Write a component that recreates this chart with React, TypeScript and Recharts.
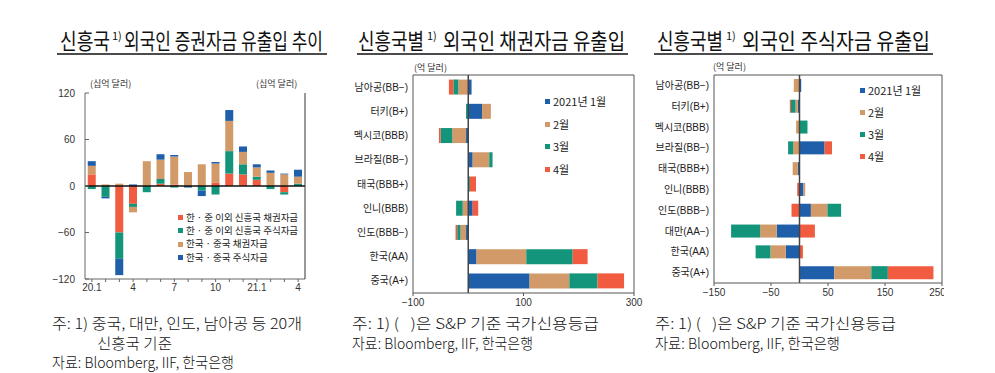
import React from 'react';
import { BarChart, Bar, XAxis, YAxis, ReferenceLine, Legend, CartesianGrid } from 'recharts';

// colours
const RED = '#F15B40';
const GREEN = '#12957A';
const TAN = '#D29A69';
const BLUE = '#1F5EA8';

// chart 1: monthly flows (십억 달러)
const months = ['2020-01', '2020-02', '2020-03', '2020-04', '2020-05', '2020-06', '2020-07', '2020-08', '2020-09', '2020-10', '2020-11', '2020-12', '2021-01', '2021-02', '2021-03', '2021-04'];
const monthTicks = ['20.1', '', '', '4', '', '', '7', '', '', '10', '', '', '21.1', '', '', '4'];
const otherBond = [15, 0, -60, -23, 0, 3, 2, 0, 0, 4, 16, 15, 8, 0, -8, 0];
const otherEquity = [-4, -14, -34, -4, -8, 6, -2, 0, -6, -11, 29, 13, 4, -4, -3, 3];
const krcnBond = [11, 2, 3, -7, 32, 25, 36, 18, 28, 25, 39, 16, 12, 17, 15, 9];
const krcnEquity = [6, -2, -21, 2, 0, 7, 2, -2, -7, 2, 14, 7, 4, 3, 1, 9];
const flowTicks = [-120, -60, 0, 60, 120];

// chart 2: bond flows by country (억 달러)
const bondCountries = ['남아공(BB−)', '터키(B+)', '멕시코(BBB)', '브라질(BB−)', '태국(BBB+)', '인니(BBB)', '인도(BBB−)', '한국(AA)', '중국(A+)'];
const bondJan = [6, 25, -4, 8, 1, 8, -4, 15, 111];
const bondFeb = [-18, 16, -25, 30, 0, -10, -10, 90, 72];
const bondMar = [-9, -4, -21, 6, 2, -12, -6, 84, 51];
const bondApr = [-8, 0, -3, 0, 11, 10, -3, 27, 48];
const bondTicks = [-100, 100, 300];

// chart 3: equity flows by country (억 달러)
const eqCountries = ['남아공(BB−)', '터키(B+)', '멕시코(BBB)', '브라질(BB−)', '태국(BBB+)', '인니(BBB)', '인도(BBB−)', '대만(AA−)', '한국(AA)', '중국(A+)'];
const eqJan = [3, -3, 0, 44, -3, 7, 20, -40, -24, 61];
const eqFeb = [-10, -4, -6, -11, -9, 3, 29, -29, -27, 65];
const eqMar = [0, -8, 14, -9, 0, 0, 24, -51, -26, 29];
const eqApr = [0, -2, 0, 13, 0, -4, -14, 27, 6, 80];
const eqTicks = [-150, -50, 50, 150, 250];

const flowSeries = [
  { key: 'otherBond', label: '한 · 중 이외 신흥국 채권자금', color: RED },
  { key: 'otherEquity', label: '한 · 중 이외 신흥국 주식자금', color: GREEN },
  { key: 'krcnBond', label: '한국 · 중국 채권자금', color: TAN },
  { key: 'krcnEquity', label: '한국 · 중국 주식자금', color: BLUE },
];
const monthSeries = [
  { key: 'jan', label: '2021년 1월', color: BLUE },
  { key: 'feb', label: '2월', color: TAN },
  { key: 'mar', label: '3월', color: GREEN },
  { key: 'apr', label: '4월', color: RED },
];

const flowData = months.map((m, i) => ({
  m,
  otherBond: otherBond[i],
  otherEquity: otherEquity[i],
  krcnBond: krcnBond[i],
  krcnEquity: krcnEquity[i],
}));
const bondData = bondCountries.map((name, i) => ({ name, jan: bondJan[i], feb: bondFeb[i], mar: bondMar[i], apr: bondApr[i] }));
const eqData = eqCountries.map((name, i) => ({ name, jan: eqJan[i], feb: eqFeb[i], mar: eqMar[i], apr: eqApr[i] }));

const FONT = "'Liberation Sans', 'Noto Sans CJK KR', sans-serif";
const KFONT = "'Noto Sans CJK KR', sans-serif";
const minus = (v: number) => String(v).replace('-', '−');
const tickStyle = { fill: '#333', fontSize: 10 };

function BoxLegend({ items, gap, fontSize }: { items: { key: string; label: string; color: string }[]; gap: number; fontSize: number }) {
  return (
    <div style={{ display: 'flex', flexDirection: 'column', gap, fontFamily: KFONT }}>
      {items.map((it) => (
        <div key={it.key} style={{ display: 'flex', alignItems: 'center', fontSize, lineHeight: 1, color: '#222', whiteSpace: 'nowrap' }}>
          <span style={{ width: 5, height: 5, background: it.color, marginRight: 3, display: 'inline-block' }} />
          {it.label}
        </div>
      ))}
    </div>
  );
}

const frameTop = ({ offset }: any) => [offset.top];
const frameRight = ({ offset }: any) => [offset.left + offset.width];

function FlowChart() {
  return (
    <BarChart width={345} height={235} data={flowData} stackOffset="sign" barCategoryGap="20%"
      margin={{ top: 23, right: 0, bottom: 6, left: 45 }}>
      <XAxis dataKey="m" interval={0} tickFormatter={(v) => monthTicks[months.indexOf(v)]}
        tick={tickStyle} tickSize={3} tickMargin={2} height={20} axisLine={{ stroke: '#666' }} tickLine={{ stroke: '#666' }} />
      <YAxis yAxisId="left" domain={[-120, 120]} ticks={flowTicks} tickFormatter={minus} width={40}
        tick={tickStyle} tickSize={-4} tickMargin={14} axisLine={{ stroke: '#666' }} tickLine={{ stroke: '#666' }} />
      <YAxis yAxisId="right" orientation="right" domain={[-120, 120]} ticks={flowTicks} tickFormatter={minus} width={40}
        tick={tickStyle} tickSize={-4} tickMargin={14} axisLine={{ stroke: '#333' }} tickLine={{ stroke: '#333' }} />
      {flowSeries.map((s) => (
        <Bar key={s.key} yAxisId="left" dataKey={s.key} stackId="a" fill={s.color} isAnimationActive={false} />
      ))}
      <ReferenceLine yAxisId="left" y={0} stroke="#111" strokeWidth={1.5} />
      <Legend layout="vertical" align="center" verticalAlign="middle"
        wrapperStyle={{ left: 178, top: 143, width: 'auto' }}
        content={() => <BoxLegend items={flowSeries} gap={3.7} fontSize={9.5} />} />
    </BarChart>
  );
}

function CountryChart({ data, domain, ticks, width, height, margin, legendPos }: any) {
  return (
    <BarChart width={width} height={height} data={data} layout="vertical" stackOffset="sign" barCategoryGap="19%" margin={margin}>
      <CartesianGrid stroke="#555" horizontalCoordinatesGenerator={frameTop} verticalCoordinatesGenerator={frameRight} />
      <XAxis type="number" domain={domain} ticks={ticks} tickFormatter={minus} height={20}
        tick={tickStyle} tickSize={3} tickMargin={3} axisLine={{ stroke: '#555' }} tickLine={{ stroke: '#555' }} />
      <YAxis type="category" dataKey="name" width={70} interval={0}
        tick={{ fill: '#222', fontSize: 10 }} tickSize={2} tickMargin={3} tickLine={false} axisLine={{ stroke: '#555' }} />
      {monthSeries.map((s) => (
        <Bar key={s.key} dataKey={s.key} stackId="a" fill={s.color} isAnimationActive={false} />
      ))}
      <ReferenceLine x={0} stroke="#444" strokeWidth={1.5} />
      <Legend layout="vertical" align="center" verticalAlign="middle"
        wrapperStyle={{ left: legendPos[0], top: legendPos[1], width: 'auto' }}
        content={() => <BoxLegend items={monthSeries} gap={legendPos[2]} fontSize={11} />} />
    </BarChart>
  );
}

// title pieces: main text, superscript, rest
const titles = [
  { a: '신흥국', ax: 60, aw: 50, sx: 112, b: '외국인 증권자금 유출입 추이', bx: 124, bw: 199, ux: [57, 327] },
  { a: '신흥국별', ax: 358, aw: 66, sx: 427, b: '외국인 채권자금 유출입', bx: 443, bw: 182, ux: [357, 628] },
  { a: '신흥국별', ax: 657, aw: 66, sx: 726, b: '외국인 주식자금 유출입', bx: 742, bw: 188, ux: [654, 933] },
];
const SP = '\u00a0';
const notes = [
  { x: 52, y: 329, w: 250, t: '주: 1) 중국, 대만, 인도, 남아공 등 20개' },
  { x: 97, y: 349, w: 75, t: '신흥국 기준' },
  { x: 52, y: 368, w: 182, t: '자료: Bloomberg, IIF, 한국은행' },
  { x: 352, y: 329, w: 247, t: `주: 1) (${SP}${SP}${SP})은 S&P 기준 국가신용등급` },
  { x: 352, y: 349, w: 181, t: '자료: Bloomberg, IIF, 한국은행' },
  { x: 655, y: 329, w: 241, t: `주: 1) (${SP}${SP}${SP})은 S&P 기준 국가신용등급` },
  { x: 655, y: 349, w: 185, t: '자료: Bloomberg, IIF, 한국은행' },
];

const unit: React.CSSProperties = { position: 'absolute', fontSize: 9, color: '#333', fontFamily: KFONT, lineHeight: 1, whiteSpace: 'nowrap' };

export default function App() {
  return (
    <div style={{ position: 'absolute', left: 0, top: 0, width: 995, height: 373, background: '#fff', fontFamily: FONT, overflow: 'hidden' }}>
      <svg width={995} height={373} style={{ position: 'absolute', left: 0, top: 0 }}>
        {titles.map((t, i) => (
          <g key={i} fontFamily={KFONT} fill="#111">
            <text x={t.ax} y={49} fontSize={22} textLength={t.aw} lengthAdjust="spacingAndGlyphs">{t.a}</text>
            <text x={t.sx} y={40} fontSize={11}>1)</text>
            <text x={t.bx} y={49} fontSize={22} textLength={t.bw} lengthAdjust="spacingAndGlyphs">{t.b}</text>
            <line x1={t.ux[0]} x2={t.ux[1]} y1={54} y2={54} stroke="#111" strokeWidth={1.5} />
          </g>
        ))}
        {notes.map((n, i) => (
          <text key={i} x={n.x} y={n.y} fontSize={15} fontWeight={300} fontFamily={KFONT} fill="#111" textLength={n.w} lengthAdjust="spacingAndGlyphs">{n.t}</text>
        ))}
      </svg>
      <span style={{ ...unit, left: 90, top: 79 }}>(십억 달러)</span>
      <span style={{ ...unit, left: 256, top: 79 }}>(십억 달러)</span>
      <span style={{ ...unit, left: 414, top: 63 }}>(억 달러)</span>
      <span style={{ ...unit, left: 713, top: 62 }}>(억 달러)</span>
      <div style={{ position: 'absolute', left: 0, top: 70 }}>
        <FlowChart />
      </div>
      <div style={{ position: 'absolute', left: 340, top: 60 }}>
        <CountryChart data={bondData} domain={[-100, 300]} ticks={bondTicks} width={305} height={255}
          margin={{ top: 15, right: 11, bottom: 2, left: 3 }} legendPos={[205, 36, 11.5]} />
      </div>
      <div style={{ position: 'absolute', left: 640, top: 60, width: 304, height: 245, overflow: 'hidden' }}>
        <CountryChart data={eqData} domain={[-150, 250]} ticks={eqTicks} width={305} height={245}
          margin={{ top: 15, right: 3, bottom: 2, left: 4 }} legendPos={[220, 24.5, 11]} />
      </div>
    </div>
  );
}
